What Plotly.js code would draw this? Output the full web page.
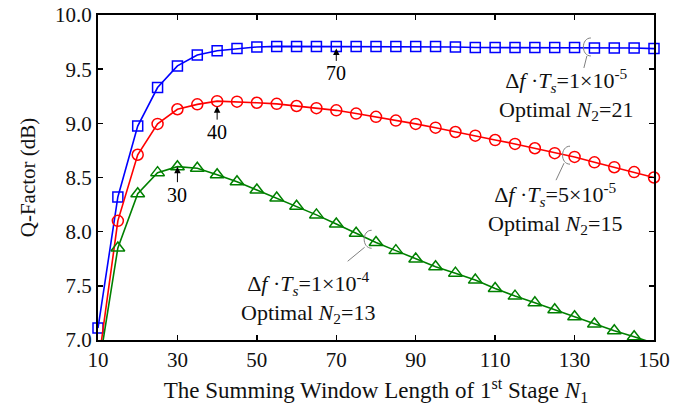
<!DOCTYPE html>
<html>
<head>
<meta charset="utf-8">
<script src="https://cdn.plot.ly/plotly-3.0.1.min.js"></script>
<style>html,body{margin:0;padding:0;background:#fff;}#chart{width:684px;height:409px;}</style>
</head>
<body>
<div id="chart"></div>
<script>
// Summing window length N1
var N1 = [10,15,20,25,30,35,40,45,50,55,60,65,70,75,80,85,90,95,100,105,110,115,120,125,130,135,140,145,150];
// Q-factor (dB), Δf·Ts = 1e-5
var qBlue = [7.11,8.32,8.975,9.33,9.53,9.63,9.67,9.69,9.705,9.71,9.71,9.71,9.71,9.71,9.71,9.71,9.71,9.71,9.705,9.70,9.70,9.70,9.70,9.70,9.70,9.695,9.695,9.695,9.69];
// Δf·Ts = 5e-5
var qRed = [6.76,8.10,8.71,8.995,9.13,9.175,9.205,9.20,9.19,9.18,9.16,9.14,9.12,9.09,9.06,9.025,8.995,8.96,8.92,8.886,8.846,8.81,8.77,8.725,8.69,8.64,8.595,8.55,8.50];
// Δf·Ts = 1e-4
var qGreen = [6.70,7.85,8.35,8.545,8.60,8.585,8.525,8.46,8.385,8.31,8.235,8.155,8.07,7.985,7.90,7.825,7.748,7.676,7.617,7.553,7.476,7.405,7.343,7.28,7.214,7.147,7.085,7.03,6.97];

var xTicks = [10,30,50,70,90,110,130,150];
var yTicks = [7.0,7.5,8.0,8.5,9.0,9.5,10.0];
var yMin = 7.0, yMax = 10.0;

var FONT = '"Liberation Serif", "Times New Roman", serif';

function vis(arr){ return arr.map(function(v){ return (v >= yMin && v <= yMax) ? 1 : 0; }); }

function mk(y, color, symbol, size){
  return {
    x: N1, y: y, type: 'scatter', mode: 'lines+markers', cliponaxis: false,
    line: {color: color, width: 1.6},
    marker: {symbol: symbol, size: size, color: color, opacity: vis(y), line: {color: color, width: 1.5}},
    showlegend: false, hoverinfo: 'skip'
  };
}

var traces = [
  mk(qBlue, '#0000ff', 'square-open', 10),
  mk(qRed, '#ff0000', 'circle-open', 11),
  mk(qGreen, '#008000', 'triangle-up-open', 12)
];

function idx(n){ return N1.indexOf(n); }

function arrowAnn(n, y, txt, ay, standoff){
  return {x: n, y: y, xref: 'x', yref: 'y', text: txt, showarrow: true,
    arrowhead: 2, arrowsize: 1.3, arrowwidth: 1, arrowcolor: '#000', ax: 0, ay: ay, standoff: standoff,
    font: {family: FONT, size: 20, color: '#000'}};
}
function labelAnn(n, y, txt){
  return {x: n, y: y, xref: 'x', yref: 'y', text: txt, showarrow: false,
    xanchor: 'center', yanchor: 'middle', align: 'center',
    font: {family: FONT, size: 22, color: '#111'}};
}

var annotations = [
  arrowAnn(70, qBlue[idx(70)], '70', 27, 2),
  arrowAnn(40, qRed[idx(40)], '40', 31, 5),
  arrowAnn(30, qGreen[idx(30)], '30', 28, 0),
  labelAnn(127.85, 9.262, 'Δ<i>f</i> ·<i>T</i><sub><i>s</i></sub>=1×10<sup>-5</sup><br>Optimal <i>N</i><sub>2</sub>=21'),
  labelAnn(125.1, 8.21, 'Δ<i>f</i> ·<i>T</i><sub><i>s</i></sub>=5×10<sup>-5</sup><br>Optimal <i>N</i><sub>2</sub>=15'),
  labelAnn(62.76, 7.395, 'Δ<i>f</i> ·<i>T</i><sub><i>s</i></sub>=1×10<sup>-4</sup><br>Optimal <i>N</i><sub>2</sub>=13')
];

function callout(ax, ay, lx0, ly0, lx1, ly1){
  return [
    {type: 'path', xref: 'x', yref: 'y', xsizemode: 'pixel', ysizemode: 'pixel', xanchor: ax, yanchor: ay,
     path: 'M 4 9 C -6 9 -6 -9 4 -9', line: {color: '#808080', width: 1}},
    {type: 'path', xref: 'x', yref: 'y', xsizemode: 'pixel', ysizemode: 'pixel', xanchor: ax, yanchor: ay,
     path: 'M ' + lx0 + ' ' + ly0 + ' L ' + lx1 + ' ' + ly1, line: {color: '#808080', width: 1}}
  ];
}
var shapes = [].concat(
  callout(133.1, 9.705, 0, -9, -3, -21),
  callout(127.85, 8.706, -2, -8, -10, -25),
  callout(77.9, 7.93, -3, -8, -20, -22)
);

var axisCommon = {
  showline: true, linecolor: '#000', linewidth: 2, mirror: 'ticks',
  ticks: 'inside', ticklen: 5, tickwidth: 1.5, tickcolor: '#000',
  showgrid: false, zeroline: false,
  tickfont: {family: FONT, size: 21, color: '#111'}
};

var layout = {
  width: 684, height: 409,
  margin: {l: 98, r: 30, t: 15, b: 69},
  paper_bgcolor: '#fff', plot_bgcolor: '#fff',
  xaxis: Object.assign({}, axisCommon, {
    range: [10, 150], tickvals: xTicks, ticktext: xTicks.map(String),
    title: {text: 'The Summing Window Length of 1<sup>st</sup> Stage <i>N</i><sub>1</sub>',
            font: {family: FONT, size: 23, color: '#111'}, standoff: 11}
  }),
  yaxis: Object.assign({}, axisCommon, {
    range: [yMin, yMax], tickvals: yTicks, ticktext: yTicks.map(function(v){return v.toFixed(1);}),
    title: {text: 'Q-Factor (dB)', font: {family: FONT, size: 21, color: '#111'}, standoff: 14}
  }),
  annotations: annotations,
  shapes: shapes
};

Plotly.newPlot('chart', traces, layout, {staticPlot: true, displayModeBar: false});
</script>
</body>
</html>
